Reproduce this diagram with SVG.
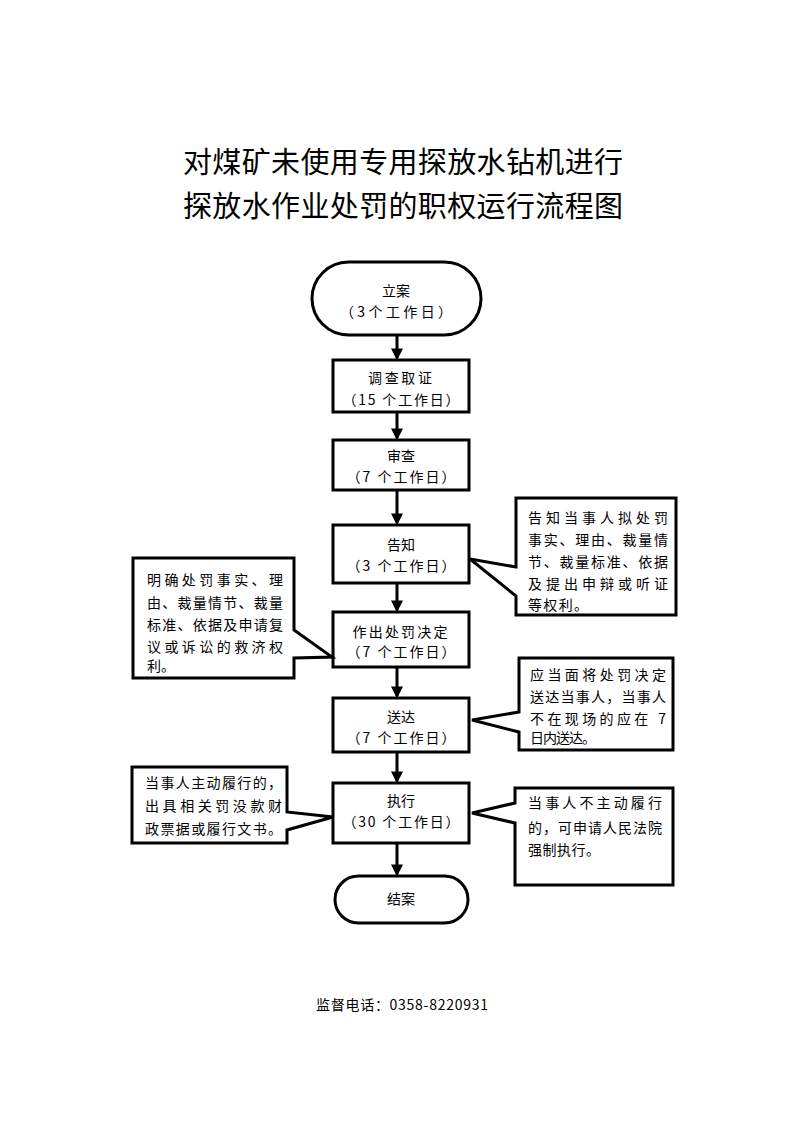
<svg xmlns="http://www.w3.org/2000/svg" width="794" height="1123" viewBox="0 0 794 1123">
<defs>
<style>
text{font-family:"Noto Sans CJK SC","Noto Sans",sans-serif;fill:#000}
.t{font-size:29px;text-anchor:middle}
.n{font-size:14px;text-anchor:middle}
.c{font-size:14px}
.s{fill:#fff;stroke:#000;stroke-width:3;stroke-linejoin:miter}
.e{stroke:#000;stroke-width:3;fill:none}
</style>
<marker id="ah" markerWidth="4" markerHeight="4" refX="3.2" refY="2" orient="auto" markerUnits="strokeWidth">
<path d="M0,0 L4,2 L0,4 Z" fill="#000"/>
</marker>
</defs>
<rect width="794" height="1123" fill="#fff"/>
<g id="title">
<text class="t" x="403" y="173" textLength="440" lengthAdjust="spacing">对煤矿未使用专用探放水钻机进行</text>
<text class="t" x="403" y="217" textLength="440" lengthAdjust="spacing">探放水作业处罚的职权运行流程图</text>
</g>
<g id="connectors">
<line class="e" x1="397" y1="335" x2="397" y2="358" marker-end="url(#ah)"/>
<line class="e" x1="397" y1="412" x2="397" y2="438" marker-end="url(#ah)"/>
<line class="e" x1="397" y1="490" x2="397" y2="523" marker-end="url(#ah)"/>
<line class="e" x1="397" y1="583" x2="397" y2="610" marker-end="url(#ah)"/>
<line class="e" x1="397" y1="667" x2="397" y2="696" marker-end="url(#ah)"/>
<line class="e" x1="397" y1="752" x2="397" y2="781" marker-end="url(#ah)"/>
<line class="e" x1="397" y1="843" x2="397" y2="874" marker-end="url(#ah)"/>
</g>
<g id="n1">
<rect class="s" x="312" y="262" width="169" height="73" rx="36.5"/>
<text class="n" x="396" y="296">立案</text>
<text class="n" x="396" y="317" textLength="112" lengthAdjust="spacing">（3个工作日）</text>
</g>
<g id="n2">
<rect class="s" x="333" y="360" width="136" height="52"/>
<text class="n" x="400" y="383" textLength="64" lengthAdjust="spacing">调查取证</text>
<text class="n" x="401" y="405" textLength="117" lengthAdjust="spacing">（15 个工作日）</text>
</g>
<g id="n3">
<rect class="s" x="333" y="440" width="136" height="50"/>
<text class="n" x="401" y="461">审查</text>
<text class="n" x="401" y="482" textLength="109" lengthAdjust="spacing">（7 个工作日）</text>
</g>
<g id="n4">
<rect class="s" x="333" y="525" width="136" height="58"/>
<text class="n" x="401" y="550">告知</text>
<text class="n" x="401" y="571" textLength="109" lengthAdjust="spacing">（3 个工作日）</text>
</g>
<g id="n5">
<rect class="s" x="333" y="612" width="136" height="55"/>
<text class="n" x="400" y="637" textLength="95" lengthAdjust="spacing">作出处罚决定</text>
<text class="n" x="401" y="657" textLength="109" lengthAdjust="spacing">（7 个工作日）</text>
</g>
<g id="n6">
<rect class="s" x="333" y="698" width="136" height="54"/>
<text class="n" x="401" y="722">送达</text>
<text class="n" x="401" y="743" textLength="109" lengthAdjust="spacing">（7 个工作日）</text>
</g>
<g id="n7">
<rect class="s" x="333" y="783" width="136" height="60"/>
<text class="n" x="401" y="806">执行</text>
<text class="n" x="401" y="827" textLength="117" lengthAdjust="spacing">（30 个工作日）</text>
</g>
<g id="n8">
<rect class="s" x="335" y="876" width="133" height="47" rx="23.5"/>
<text class="n" x="401" y="904">结案</text>
</g>
<g id="callout-r1">
<path class="s" d="M516,498 H676 V615 H516 V596 L470,559 L516,567 Z"/>
<text class="c" x="528" y="523" textLength="140" lengthAdjust="spacing">告知当事人拟处罚</text>
<text class="c" x="528" y="545" textLength="140" lengthAdjust="spacing">事实、理由、裁量情</text>
<text class="c" x="528" y="567" textLength="140" lengthAdjust="spacing">节、裁量标准、依据</text>
<text class="c" x="528" y="589" textLength="140" lengthAdjust="spacing">及提出申辩或听证</text>
<text class="c" x="528" y="610" textLength="60" lengthAdjust="spacing">等权利。</text>
</g>
<g id="callout-l1">
<path class="s" d="M133,558 H294 V630 L332,657 L294,658 V678 H133 Z"/>
<text class="c" x="147" y="585" textLength="136" lengthAdjust="spacing">明确处罚事实、理</text>
<text class="c" x="147" y="608" textLength="136" lengthAdjust="spacing">由、裁量情节、裁量</text>
<text class="c" x="147" y="630" textLength="136" lengthAdjust="spacing">标准、依据及申请复</text>
<text class="c" x="147" y="652" textLength="136" lengthAdjust="spacing">议或诉讼的救济权</text>
<text class="c" x="147" y="671">利。</text>
</g>
<g id="callout-r2">
<path class="s" d="M519,658 H673 V750 H519 V732 L472,720 L519,712 Z"/>
<text class="c" x="530" y="680" textLength="136" lengthAdjust="spacing">应当面将处罚决定</text>
<text class="c" x="530" y="702" textLength="136" lengthAdjust="spacing">送达当事人，当事人</text>
<text class="c" x="530" y="724" textLength="136" lengthAdjust="spacing">不在现场的应在 7</text>
<text class="c" x="530" y="743" textLength="66" lengthAdjust="spacing">日内送达。</text>
</g>
<g id="callout-l2">
<path class="s" d="M132,767 H287 V812 L333,817 L287,830 V843 H132 Z"/>
<text class="c" x="145" y="788" textLength="137" lengthAdjust="spacing">当事人主动履行的，</text>
<text class="c" x="145" y="811" textLength="137" lengthAdjust="spacing">出具相关罚没款财</text>
<text class="c" x="145" y="834" textLength="137" lengthAdjust="spacing">政票据或履行文书。</text>
</g>
<g id="callout-r3">
<path class="s" d="M515,788 H673 V885 H515 V823 L472,813 L515,803 Z"/>
<text class="c" x="528" y="808" textLength="134" lengthAdjust="spacing">当事人不主动履行</text>
<text class="c" x="528" y="833" textLength="134" lengthAdjust="spacing">的，可申请人民法院</text>
<text class="c" x="528" y="855" textLength="72" lengthAdjust="spacing">强制执行。</text>
</g>
<g id="footer">
<text class="n" x="402" y="1010" textLength="172" lengthAdjust="spacing">监督电话：0358-8220931</text>
</g>
</svg>
